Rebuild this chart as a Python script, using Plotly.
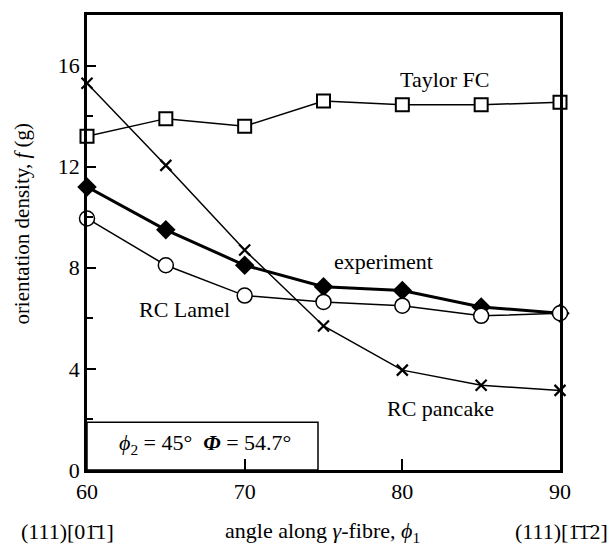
import plotly.graph_objects as go

angles = [60, 65, 70, 75, 80, 85, 90]
taylor_fc = [13.2, 13.9, 13.6, 14.6, 14.45, 14.45, 14.55]
experiment = [11.2, 9.5, 8.1, 7.25, 7.1, 6.45, 6.2]
rc_lamel = [9.95, 8.1, 6.9, 6.65, 6.5, 6.1, 6.2]
rc_pancake = [15.3, 12.05, 8.7, 5.7, 3.95, 3.35, 3.15]

FONT = "Liberation Serif, Times New Roman, serif"
L, R, T, B = 87, 560, 12, 470


def px(xp):
    return (xp - L) / (R - L)


def py(yp):
    return (B - yp) / (B - T)


fig = go.Figure()
fig.add_trace(go.Scatter(x=angles, y=rc_pancake, mode="lines+markers",
                         line=dict(color="black", width=1.5),
                         marker=dict(symbol="x-thin", size=11, line=dict(color="black", width=2.2)),
                         cliponaxis=False, name="RC pancake"))
fig.add_trace(go.Scatter(x=angles, y=experiment, mode="lines+markers",
                         line=dict(color="black", width=3),
                         marker=dict(symbol="diamond", size=15, color="black"),
                         cliponaxis=False, name="experiment"))
fig.add_trace(go.Scatter(x=angles, y=rc_lamel, mode="lines+markers",
                         line=dict(color="black", width=1.5),
                         marker=dict(symbol="circle", size=15, color="white", line=dict(color="black", width=1.5)),
                         cliponaxis=False, name="RC Lamel"))
fig.add_trace(go.Scatter(x=angles, y=taylor_fc, mode="lines+markers",
                         line=dict(color="black", width=1.5),
                         marker=dict(symbol="square", size=13, color="white", line=dict(color="black", width=2)),
                         cliponaxis=False, name="Taylor FC"))

# parameter box
fig.add_shape(type="rect", xref="paper", yref="paper", x0=0, x1=px(318), y0=0, y1=py(422),
              line=dict(color="black", width=1.5), fillcolor="white", layer="below")

ann = [
    dict(x=445, y=77, text="Taylor FC"),
    dict(x=383, y=260, text="experiment"),
    dict(x=184, y=308, text="RC Lamel"),
    dict(x=440, y=408, text="RC pancake"),
    dict(x=205, y=444, text="<i>ϕ</i><sub>2</sub> = 45°  <b><i>Φ</i></b> = 54.7°"),
    dict(x=67, y=532, text="(111)[01\u03041]"),
    dict(x=322, y=532, text="angle along <i>γ</i>-fibre, <i>ϕ</i><sub>1</sub>"),
    dict(x=561, y=532, text="(111)[1\u03041\u03042]"),
]
for a in ann:
    fig.add_annotation(xref="paper", yref="paper", showarrow=False,
                       x=px(a["x"]), y=py(a["y"]), text=a["text"],
                       xanchor="center", yanchor="middle",
                       font=dict(family=FONT, size=22, color="black"))

fig.add_annotation(xref="paper", yref="paper", showarrow=False,
                   x=px(22), y=py(222), text="orientation density, <i>f</i> (g)",
                   textangle=-90, xanchor="center", yanchor="middle",
                   font=dict(family=FONT, size=21, color="black"))

fig.update_layout(
    width=613, height=547,
    margin=dict(l=L, r=613 - R, t=T, b=547 - B),
    plot_bgcolor="white", paper_bgcolor="white",
    showlegend=False,
    font=dict(family=FONT, size=22, color="black"),
    xaxis=dict(range=[60, 90], tickvals=[60, 70, 80, 90], ticks="inside", ticklen=11,
               tickwidth=2, tickcolor="black", showline=True, linewidth=2.5, linecolor="black",
               mirror=True, showgrid=False, zeroline=False,
               tickfont=dict(family=FONT, size=22)),
    yaxis=dict(range=[0, 18], tickvals=[0, 4, 8, 12, 16], ticks="inside", ticklen=9,
               tickwidth=2, tickcolor="black", showline=True, linewidth=2.5, linecolor="black",
               mirror=True, showgrid=False, zeroline=False,
               minor=dict(tickvals=[2, 6, 10, 14], ticks="inside", ticklen=6, tickwidth=1.5, tickcolor="black"),
               tickfont=dict(family=FONT, size=22)),
)

fig.write_html("out.html")
